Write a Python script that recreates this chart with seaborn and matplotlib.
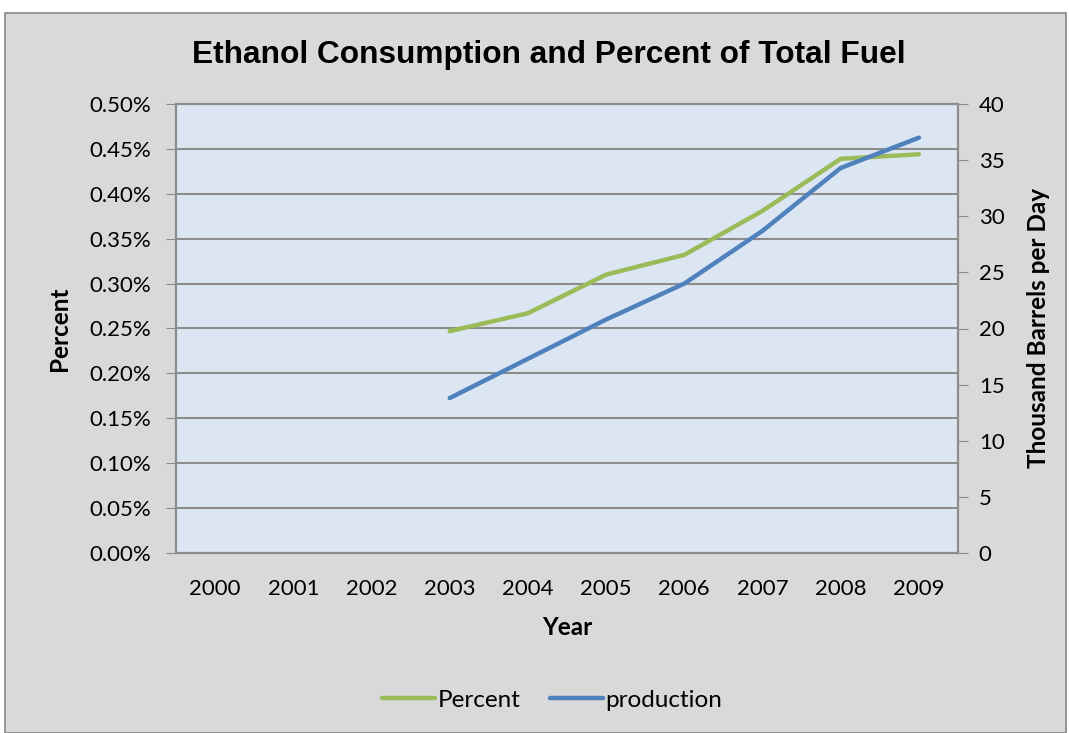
import numpy as np
import pandas as pd
import matplotlib.pyplot as plt
import seaborn as sns
from matplotlib.patches import Rectangle
from matplotlib.ticker import FuncFormatter, MultipleLocator

# Datos
years = [2000, 2001, 2002, 2003, 2004, 2005, 2006, 2007, 2008, 2009]
percent = [np.nan, np.nan, np.nan, 0.247, 0.267, 0.310, 0.332, 0.381, 0.439, 0.444]
production = [np.nan, np.nan, np.nan, 13.8, 17.3, 20.8, 24.0, 28.7, 34.3, 37.0]

df = pd.DataFrame({'Year': years, 'Percent': percent, 'production': production})

sns.set_style('white')
plt.rcParams['font.family'] = ['Lato', 'DejaVu Sans']
plt.rcParams['text.color'] = 'black'
plt.rcParams['axes.labelcolor'] = 'black'
plt.rcParams['xtick.color'] = 'black'
plt.rcParams['ytick.color'] = 'black'

green = '#9BBB59'
blue = '#4F81BD'
grid_c = '#8C8C8C'

fig = plt.figure(figsize=(10.69, 7.33), dpi=100)
fig.patch.set_facecolor('white')
fig.patches.append(Rectangle((5 / 1069, 0), 1061 / 1069, 1 - 13 / 733,
                             transform=fig.transFigure, facecolor='#D9D9D9',
                             edgecolor='#868686', linewidth=1.2, zorder=-10))

ax = fig.add_axes([176 / 1069, 1 - 553 / 733, 782 / 1069, 449 / 733])
ax.set_facecolor('#DCE6F2')
ax2 = ax.twinx()

sns.lineplot(data=df, x='Year', y='Percent', ax=ax, color=green, linewidth=3.2,
             legend=False, zorder=3)
sns.lineplot(data=df, x='Year', y='production', ax=ax2, color=blue, linewidth=3.2,
             legend=False, zorder=3)
ax2.patch.set_visible(False)

ax.set_xlim(1999.5, 2009.5)
ax.set_ylim(0, 0.5)
ax2.set_ylim(0, 40)

ax.yaxis.set_major_locator(MultipleLocator(0.05))
ax.yaxis.set_major_formatter(FuncFormatter(lambda v, p: f'{v:.2f}%'))
ax2.yaxis.set_major_locator(MultipleLocator(5))

ax.set_xticks(np.arange(1999.5, 2010, 1))
ax.set_xticklabels([])
ax.set_xticks(years, minor=True)
ax.set_xticklabels([str(y) for y in years], minor=True)
ax.tick_params(axis='x', which='major', length=7, color=grid_c, direction='out')
ax.tick_params(axis='x', which='minor', length=0, pad=19, labelsize=16)
ax.tick_params(axis='y', length=7, color=grid_c, direction='out', labelsize=16, pad=11)
ax2.tick_params(axis='y', length=7, color=grid_c, direction='out', labelsize=16, pad=8)

ax.grid(axis='y', color=grid_c, linewidth=1.5)
ax.grid(axis='x', visible=False)
for a in (ax, ax2):
    for s in a.spines.values():
        s.set_color(grid_c)
        s.set_linewidth(1.5)

ax.set_xlabel('Year', fontsize=17.5, fontweight='bold')
ax.set_ylabel('Percent', fontsize=17.5, fontweight='bold')
ax2.set_ylabel('Thousand Barrels per Day', fontsize=17.5, fontweight='bold')
ax.xaxis.set_label_coords(0.5, (553 - 616) / 449)
ax.yaxis.set_label_coords((71 - 176) / 782, 0.5)
ax2.yaxis.set_label_coords((1027 - 176) / 782, 0.5)

fig.text(0.513, 1 - 55 / 733, 'Ethanol Consumption and Percent of Total Fuel',
         ha='center', va='center', fontsize=22.8, fontweight='bold',
         family='Liberation Sans')

h1, = ax.plot([], [], color=green, linewidth=3.2)
h2, = ax.plot([], [], color=blue, linewidth=3.2)
fig.legend([h1, h2], ['Percent', 'production'], loc='center',
           bbox_to_anchor=(552 / 1069, 1 - 700 / 733), ncol=2, frameon=False,
           fontsize=17.5, handlelength=2.2, handletextpad=0.1, columnspacing=1.2)

fig.savefig('out.png', dpi=100)
